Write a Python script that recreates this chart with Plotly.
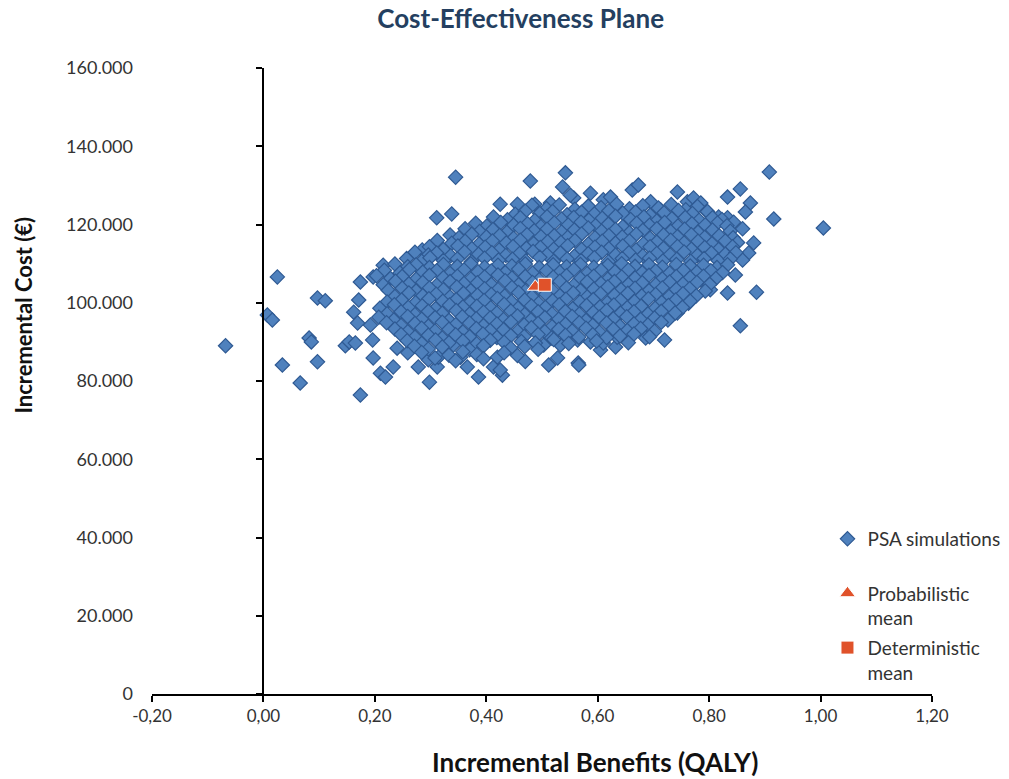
import plotly.graph_objects as go

x_tick_values = [-0.2, 0.0, 0.2, 0.4, 0.6, 0.8, 1.0, 1.2]
x_tick_labels = ["-0,20", "0,00", "0,20", "0,40", "0,60", "0,80", "1,00", "1,20"]
y_tick_values = [0, 20000, 40000, 60000, 80000, 100000, 120000, 140000, 160000]
y_tick_labels = ["0", "20.000", "40.000", "60.000", "80.000", "100.000", "120.000", "140.000", "160.000"]

# PSA simulations: incremental QALY
psa_qaly = [
    # upper / right edge points
    0.345, 0.479, 0.542, 0.537, 0.425, 0.456, 0.487, 0.515, 0.311, 0.338,
    0.557, 0.551, 0.587, 0.610, 0.623, 0.662, 0.673, 0.695, 0.713, 0.743,
    0.761, 0.772, 0.785, 0.797, 0.817, 0.833, 0.844, 0.860, 0.880, 0.871,
    0.860, 0.847, 0.908, 1.005, 0.916, 0.856, 0.833, 0.874, 0.865, 0.885,
    0.833, 0.856, 0.802, 0.785, 0.763, 0.743, 0.720, 0.686, 0.632, 0.605,
    0.565, 0.285, 0.215,
    # left / lower edge points
    -0.068, 0.025, 0.007, 0.016, 0.034, 0.066, 0.082, 0.086, 0.097, 0.097,
    0.111, 0.174, 0.147, 0.154, 0.165, 0.162, 0.169, 0.174, 0.171, 0.197,
    0.197, 0.210, 0.219, 0.196, 0.192, 0.233, 0.259, 0.240, 0.278, 0.298,
    0.312, 0.296, 0.314, 0.341, 0.354, 0.366, 0.386, 0.429, 0.413, 0.420,
    0.425, 0.512, 0.528, 0.566, 0.503, 0.533, 0.564, 0.587, 0.610, 0.635,
    # core cloud
    0.482, 0.508, 0.531, 0.559, 0.583, 0.606, 0.634, 0.657, 0.681, 0.709, 0.732, 0.758, 0.779,
    0.452, 0.470, 0.496, 0.519, 0.545, 0.571, 0.594, 0.620, 0.645, 0.668, 0.694, 0.719, 0.745, 0.770, 0.797,
    0.413, 0.438, 0.461, 0.487, 0.509, 0.535, 0.557, 0.584, 0.608, 0.632, 0.659, 0.683, 0.706, 0.733, 0.757, 0.782, 0.806, 0.823,
    0.381, 0.401, 0.426, 0.449, 0.474, 0.498, 0.522, 0.547, 0.570, 0.596, 0.619, 0.645, 0.670, 0.693, 0.720, 0.744, 0.769, 0.793, 0.815, 0.832,
    0.362, 0.388, 0.412, 0.437, 0.461, 0.486, 0.509, 0.535, 0.558, 0.583, 0.607, 0.632, 0.657, 0.681, 0.706, 0.731, 0.756, 0.780, 0.806, 0.838,
    0.335, 0.351, 0.374, 0.400, 0.424, 0.449, 0.473, 0.498, 0.522, 0.546, 0.571, 0.595, 0.620, 0.644, 0.669, 0.694, 0.718, 0.743, 0.768, 0.792, 0.818, 0.843,
    0.312, 0.338, 0.362, 0.387, 0.411, 0.436, 0.461, 0.485, 0.510, 0.534, 0.559, 0.583, 0.608, 0.632, 0.657, 0.682, 0.706, 0.731, 0.755, 0.780, 0.805, 0.829, 0.851,
    0.298, 0.323, 0.349, 0.374, 0.398, 0.423, 0.448, 0.472, 0.497, 0.521, 0.546, 0.571, 0.595, 0.620, 0.645, 0.669, 0.694, 0.718, 0.743, 0.768, 0.792, 0.817, 0.842,
    0.272, 0.296, 0.311, 0.336, 0.361, 0.386, 0.410, 0.435, 0.460, 0.484, 0.509, 0.533, 0.558, 0.583, 0.607, 0.632, 0.656, 0.681, 0.706, 0.730, 0.755, 0.779, 0.804, 0.829, 0.848,
    0.257, 0.284, 0.299, 0.323, 0.348, 0.373, 0.397, 0.422, 0.447, 0.471, 0.496, 0.521, 0.545, 0.570, 0.594, 0.619, 0.644, 0.668, 0.693, 0.717, 0.742, 0.767, 0.791, 0.816, 0.838,
    0.236, 0.259, 0.274, 0.298, 0.323, 0.348, 0.372, 0.397, 0.421, 0.446, 0.470, 0.495, 0.520, 0.544, 0.569, 0.593, 0.618, 0.643, 0.667, 0.692, 0.716, 0.741, 0.766, 0.790, 0.814, 0.833,
    0.217, 0.245, 0.262, 0.286, 0.311, 0.335, 0.360, 0.385, 0.409, 0.434, 0.458, 0.483, 0.508, 0.532, 0.557, 0.581, 0.606, 0.631, 0.655, 0.680, 0.704, 0.729, 0.754, 0.778, 0.803, 0.824,
    0.203, 0.228, 0.249, 0.274, 0.298, 0.323, 0.348, 0.372, 0.397, 0.421, 0.446, 0.470, 0.495, 0.520, 0.544, 0.569, 0.593, 0.618, 0.643, 0.667, 0.692, 0.716, 0.741, 0.766, 0.790, 0.812,
    0.215, 0.237, 0.261, 0.286, 0.311, 0.335, 0.360, 0.384, 0.409, 0.434, 0.458, 0.483, 0.508, 0.532, 0.557, 0.581, 0.606, 0.630, 0.655, 0.680, 0.704, 0.729, 0.753, 0.778, 0.801,
    0.224, 0.249, 0.274, 0.298, 0.323, 0.347, 0.372, 0.397, 0.421, 0.446, 0.470, 0.495, 0.519, 0.544, 0.569, 0.593, 0.618, 0.642, 0.667, 0.692, 0.716, 0.741, 0.765, 0.793,
    0.236, 0.261, 0.286, 0.310, 0.335, 0.359, 0.384, 0.409, 0.433, 0.458, 0.482, 0.507, 0.532, 0.556, 0.581, 0.605, 0.630, 0.654, 0.679, 0.704, 0.728, 0.753, 0.777,
    0.222, 0.248, 0.273, 0.297, 0.322, 0.346, 0.371, 0.396, 0.420, 0.445, 0.469, 0.494, 0.519, 0.543, 0.568, 0.592, 0.617, 0.641, 0.666, 0.691, 0.715, 0.740, 0.766,
    0.209, 0.235, 0.260, 0.285, 0.309, 0.334, 0.358, 0.383, 0.408, 0.432, 0.457, 0.481, 0.506, 0.531, 0.555, 0.580, 0.604, 0.629, 0.653, 0.678, 0.703, 0.727, 0.752,
    0.222, 0.247, 0.272, 0.296, 0.321, 0.346, 0.370, 0.395, 0.419, 0.444, 0.469, 0.493, 0.518, 0.542, 0.567, 0.592, 0.616, 0.641, 0.665, 0.690, 0.714, 0.739,
    0.207, 0.234, 0.259, 0.284, 0.308, 0.333, 0.357, 0.382, 0.407, 0.431, 0.456, 0.480, 0.505, 0.530, 0.554, 0.579, 0.603, 0.628, 0.652, 0.677, 0.702, 0.726,
    0.221, 0.247, 0.272, 0.296, 0.321, 0.345, 0.370, 0.395, 0.419, 0.444, 0.468, 0.493, 0.518, 0.542, 0.567, 0.591, 0.616, 0.640, 0.665, 0.690, 0.714,
    0.236, 0.259, 0.284, 0.308, 0.333, 0.358, 0.382, 0.407, 0.431, 0.456, 0.481, 0.505, 0.530, 0.554, 0.579, 0.603, 0.628, 0.653, 0.677, 0.702,
    0.247, 0.272, 0.296, 0.321, 0.345, 0.370, 0.394, 0.419, 0.444, 0.468, 0.493, 0.517, 0.542, 0.566, 0.591, 0.616, 0.640, 0.665, 0.693,
    0.258, 0.284, 0.309, 0.333, 0.358, 0.383, 0.407, 0.432, 0.463, 0.488, 0.521, 0.548, 0.598, 0.655,
    0.271, 0.296, 0.321, 0.370, 0.395, 0.444, 0.469, 0.493,
    0.284, 0.333, 0.358, 0.383, 0.432, 0.456,
    0.308, 0.345, 0.395, 0.470,
]

# PSA simulations: incremental cost (EUR)
psa_cost = [
    # upper / right edge points
    132100, 131100, 133200, 129600, 125200, 125200, 125200, 125500, 121700, 122700,
    126800, 127500, 128000, 126300, 127000, 128800, 130100, 125800, 123700, 128300,
    125800, 126800, 125500, 123200, 121900, 121700, 120600, 118900, 115300, 112700,
    110900, 107100, 133400, 119100, 121400, 129100, 127000, 125500, 123200, 102700,
    102500, 94100, 103300, 105800, 99900, 97400, 90500, 91000, 88700, 87900,
    84600, 113500, 109600,
    # left / lower edge points
    89000, 106600, 96900, 95600, 84100, 79500, 91000, 90000, 84900, 101200,
    100500, 76400, 89000, 90000, 89700, 97600, 94800, 105300, 100700, 106600,
    85900, 82000, 81000, 90500, 94300, 83600, 87200, 88400, 83600, 79700,
    83600, 85400, 86100, 89200, 86100, 83600, 81000, 81500, 83600, 86100,
    82800, 84100, 85900, 84100, 89200, 89200, 90500, 90000, 89700, 91200,
    # core cloud
    124900, 124100, 125000, 123900, 124700, 124300, 125200, 124000, 124800, 124200, 125100, 123800, 124600,
    122600, 123400, 122800, 123300, 122500, 123100, 122700, 123500, 122900, 123200, 122400, 123000, 123600, 122800, 123300,
    121900, 121200, 121700, 121000, 122000, 121400, 121800, 121100, 121600, 122100, 121300, 121900, 120900, 121500, 121800, 121100, 121700, 121300,
    120300, 119600, 120500, 119800, 120200, 119500, 120400, 119900, 120600, 119700, 120100, 119400, 120300, 119800, 120500, 119600, 120200, 119900, 120400, 119700,
    118900, 118200, 118700, 118000, 119000, 118400, 118800, 118100, 118600, 119100, 118300, 118700, 117900, 118500, 118900, 118200, 118800, 118000, 118600, 118300,
    117300, 116600, 117500, 116800, 117200, 116500, 117400, 116900, 117100, 116700, 117600, 116600, 117200, 116800, 117500, 116500, 117300, 116900, 117400, 116700, 117100, 116600,
    115900, 115200, 115700, 115000, 115800, 115300, 116000, 115100, 115600, 115400, 115900, 115000, 115700, 115200, 115800, 115100, 115500, 116000, 115300, 115700, 115100, 115800, 115400,
    114300, 113600, 114500, 113800, 114200, 113500, 114400, 113900, 114100, 113700, 114600, 113600, 114200, 113800, 114500, 113500, 114300, 113900, 114400, 113700, 114100, 113600, 114300,
    112900, 112200, 112700, 112000, 113000, 112400, 112800, 112100, 112600, 113100, 112300, 112700, 111900, 112500, 112900, 112200, 112800, 112000, 112600, 112300, 113000, 112100, 112700, 112400, 112800,
    111300, 110600, 111500, 110800, 111200, 110500, 111400, 110900, 111100, 110700, 111600, 110600, 111200, 110800, 111500, 110500, 111300, 110900, 111400, 110700, 111100, 110600, 111300, 110800, 111200,
    109900, 109200, 109700, 109000, 109800, 109300, 110000, 109100, 109600, 109400, 109900, 109000, 109700, 109200, 109800, 109100, 109500, 110000, 109300, 109700, 109100, 109800, 109400, 109600, 109000, 109700,
    108300, 107600, 108500, 107800, 108200, 107500, 108400, 107900, 108100, 107700, 108600, 107600, 108200, 107800, 108500, 107500, 108300, 107900, 108400, 107700, 108100, 107600, 108300, 107800, 108200, 107700,
    106900, 106200, 106700, 106000, 107000, 106400, 106800, 106100, 106600, 107100, 106300, 106700, 105900, 106500, 106900, 106200, 106800, 106000, 106600, 106300, 107000, 106100, 106700, 106400, 106800, 106200,
    104600, 105500, 104800, 105200, 104500, 105400, 104900, 105100, 104700, 105600, 104600, 105200, 104800, 105500, 104500, 105300, 104900, 105400, 104700, 105100, 104600, 105300, 104800, 105200, 104700,
    103200, 103700, 103000, 103800, 103300, 104000, 103100, 103600, 103400, 103900, 103000, 103700, 103200, 103800, 103100, 103500, 104000, 103300, 103700, 103100, 103800, 103400, 103600, 103000,
    101600, 102500, 101800, 102200, 101500, 102400, 101900, 102100, 101700, 102600, 101600, 102200, 101800, 102500, 101500, 102300, 101900, 102400, 101700, 102100, 101600, 102300, 101800,
    100200, 100700, 100000, 101000, 100400, 100800, 100100, 100600, 101100, 100300, 100700, 99900, 100500, 100900, 100200, 100800, 100000, 100600, 100300, 101000, 100100, 100700, 100400,
    98600, 99500, 98800, 99200, 98500, 99400, 98900, 99100, 98700, 99600, 98600, 99200, 98800, 99500, 98500, 99300, 98900, 99400, 98700, 99100, 98600, 99300, 98800,
    97200, 97700, 97000, 97800, 97300, 98000, 97100, 97600, 97400, 97900, 97000, 97700, 97200, 97800, 97100, 97500, 98000, 97300, 97700, 97100, 97800, 97400,
    96300, 95600, 96500, 95800, 96200, 95500, 96400, 95900, 96100, 95700, 96600, 95600, 96200, 95800, 96500, 95500, 96300, 95900, 96400, 95700, 96100, 95600,
    94900, 94200, 94700, 94000, 95000, 94400, 94800, 94100, 94600, 95100, 94300, 94700, 93900, 94500, 94900, 94200, 94800, 94000, 94600, 94300, 95000,
    93300, 92600, 93500, 92800, 93200, 92500, 93400, 92900, 93100, 92700, 93600, 92600, 93200, 92800, 93500, 92500, 93300, 92900, 93400, 92700,
    91900, 91200, 91700, 91000, 91800, 91300, 92000, 91100, 91600, 91400, 91900, 91000, 91700, 91200, 91800, 91100, 91500, 92000, 91300,
    90300, 89600, 90500, 89800, 90200, 89500, 90400, 89900, 90100, 89700, 90600, 89600, 90200, 89800,
    88900, 88200, 88700, 88000, 89000, 88400, 88800, 88100,
    87300, 86600, 87500, 86800, 87200, 86500,
    85900, 85200, 85700, 85000,
]

prob_mean_qaly = [0.488]
prob_mean_cost = [104100]
det_mean_qaly = [0.505]
det_mean_cost = [104600]

assert len(psa_qaly) == len(psa_cost), (len(psa_qaly), len(psa_cost))

FONT = "Lato"
TEXT = "#333333"

fig = go.Figure()
fig.add_trace(go.Scatter(
    x=psa_qaly, y=psa_cost, mode="markers", name="PSA simulations<br>\u00a0",
    legendgroup="a",
    marker=dict(symbol="diamond", size=11, color="#4F81BD",
                line=dict(color="#2F5A93", width=1.2)),
))
fig.add_trace(go.Scatter(
    x=prob_mean_qaly, y=prob_mean_cost, mode="markers", name="Probabilistic<br>mean",
    legendgroup="b", yaxis="y2",
    marker=dict(symbol="triangle-up", size=14, color="#E0522A",
                line=dict(color="white", width=1)),
))
fig.add_trace(go.Scatter(
    x=det_mean_qaly, y=det_mean_cost, mode="markers", name="Deterministic<br>mean",
    legendgroup="c", yaxis="y2",
    marker=dict(symbol="square", size=13, color="#E0522A",
                line=dict(color="white", width=1)),
))

fig.update_layout(
    width=1009, height=779,
    margin=dict(l=152, r=77, t=68, b=85, autoexpand=False),
    paper_bgcolor="white", plot_bgcolor="white",
    font=dict(family=FONT, color=TEXT, size=17),
    title=dict(text="<b>Cost-Effectiveness Plane</b>", x=0.516, xanchor="center",
               y=0.976, yanchor="middle",
               font=dict(family=FONT, size=26, color="#243F60")),
    xaxis=dict(range=[-0.2, 1.2], tickvals=x_tick_values, ticktext=x_tick_labels,
               showgrid=False, zeroline=False, showline=True, linecolor="black",
               linewidth=2, ticks="outside", ticklen=6, tickwidth=2, tickcolor="black",
               tickfont=dict(family=FONT, size=17, color=TEXT)),
    yaxis=dict(range=[0, 160000], tickvals=y_tick_values, ticktext=y_tick_labels,
               showgrid=False, zeroline=False, showline=False, ticks="",
               ticklabelstandoff=18,
               tickfont=dict(family=FONT, size=18, color=TEXT)),
    yaxis2=dict(range=[0, 160000], tickvals=y_tick_values, overlaying="y",
                anchor="free", position=0.2 / 1.4, side="left",
                showgrid=False, zeroline=False, showline=True, linecolor="black",
                linewidth=2, ticks="outside", ticklen=6, tickwidth=2,
                tickcolor="black", showticklabels=False),
    legend=dict(x=0.866, y=0.278, xanchor="left", yanchor="top",
                font=dict(family=FONT, size=19, color=TEXT),
                tracegroupgap=2, valign="top", bgcolor="rgba(0,0,0,0)",
                itemwidth=30),
    showlegend=True,
    annotations=[
        dict(text="<b>Incremental Benefits (QALY)</b>", xref="paper", yref="paper",
             x=0.568, y=-0.109, xanchor="center", yanchor="middle", showarrow=False,
             font=dict(family=FONT, size=26, color="#111111")),
        dict(text="<b>Incremental Cost (€)</b>", xref="paper", yref="paper",
             x=-0.165, y=0.605, xanchor="center", yanchor="middle", showarrow=False,
             textangle=-90, font=dict(family=FONT, size=22, color="#111111")),
    ],
)

fig.write_html("out.html")
